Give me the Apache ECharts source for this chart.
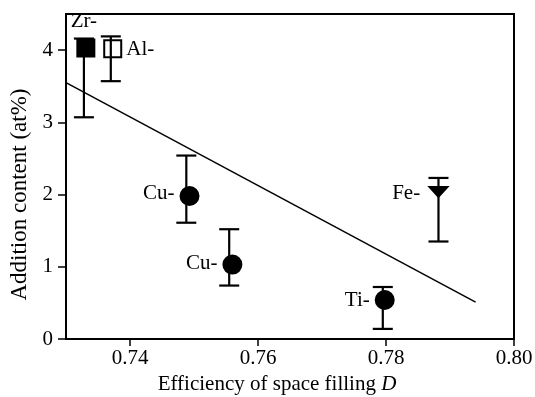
<!DOCTYPE html>
<html>
<head>
<meta charset="utf-8">
<script src="https://cdn.jsdelivr.net/npm/echarts@6/dist/echarts.min.js"></script>
<style>html,body{margin:0;padding:0;background:#fff;}#c{width:535px;height:397px;}</style>
</head>
<body>
<div id="c"></div>
<script>
// Data
const pointNames = ['Zr-', 'Al-', 'Cu-', 'Cu-', 'Ti-', 'Fe-'];
const pointX = [0.7331, 0.7373, 0.7493, 0.7560, 0.7798, 0.7882];
const pointY = [4.03, 4.02, 1.98, 1.03, 0.54, 2.04];
const errX = [0.7328, 0.7370, 0.7488, 0.7555, 0.7795, 0.7882];
const errLow = [3.07, 3.57, 1.61, 0.74, 0.14, 1.35];
const errHigh = [4.16, 4.19, 2.54, 1.52, 0.72, 2.23];
const fitX = [0.730, 0.794];
const fitY = [3.55, 0.51];
const xTicks = [0.74, 0.76, 0.78, 0.80];
const yTicks = [0, 1, 2, 3, 4];

const FONT = 'Liberation Serif';
const styles = [
  {symbol: 'rect', size: 17, rotate: 0, fill: '#000', pos: 'top', dist: 6, off: [-2, 0]},
  {symbol: 'rect', size: 17, rotate: 0, fill: 'rgba(0,0,0,0)', pos: 'right', dist: 4, off: [0, 1]},
  {symbol: 'circle', size: 18, rotate: 0, fill: '#000', pos: 'left', dist: 5, off: [0, -3]},
  {symbol: 'circle', size: 18, rotate: 0, fill: '#000', pos: 'left', dist: 5, off: [0, -1]},
  {symbol: 'circle', size: 18, rotate: 0, fill: '#000', pos: 'left', dist: 5, off: [0, 0]},
  {symbol: 'triangle', size: [18, 10], rotate: 180, fill: '#000', pos: 'left', dist: 8, off: [0, 2]}
];

const scatterData = pointX.map((x, i) => ({
  value: [x, pointY[i]],
  symbol: styles[i].symbol,
  symbolSize: styles[i].size,
  symbolRotate: styles[i].rotate,
  itemStyle: {color: styles[i].fill, borderColor: '#000', borderWidth: 2, opacity: 1},
  label: {show: true, formatter: pointNames[i], position: styles[i].pos, distance: styles[i].dist, offset: styles[i].off,
          fontFamily: FONT, fontSize: 21, color: '#000'}
}));

const errData = errX.map((x, i) => [x, errLow[i], errHigh[i]]);

const chart = echarts.init(document.getElementById('c'), null, {renderer: 'canvas'});
chart.setOption({
  animation: false,
  grid: {left: 66, right: 21, top: 14, bottom: 58, containLabel: false, outerBoundsMode: 'none',
         show: true, borderColor: '#000', borderWidth: 2},
  xAxis: {
    type: 'value', min: 0.73, max: 0.80,
    name: '{a|Efficiency of space filling }{b|D}', nameLocation: 'middle', nameGap: 29,
    nameTextStyle: {padding: [0, 26, 0, 0],
      rich: {a: {fontFamily: FONT, fontSize: 21, color: '#000'}, b: {fontFamily: FONT, fontSize: 21, fontStyle: 'italic', color: '#000'}}},
    axisLine: {lineStyle: {color: '#000', width: 2}},
    axisTick: {show: true, length: 7, inside: false, lineStyle: {color: '#000', width: 1.5}, customValues: xTicks},
    axisLabel: {fontFamily: FONT, fontSize: 21, color: '#000', margin: 9, customValues: xTicks, formatter: v => v.toFixed(2)},
    splitLine: {show: false}
  },
  yAxis: {
    type: 'value', min: 0, max: 4.5,
    name: 'Addition content (at%)', nameLocation: 'middle', nameGap: 34,
    nameTextStyle: {fontFamily: FONT, fontSize: 23, color: '#000', padding: [0, 36, 0, 0]},
    axisLine: {lineStyle: {color: '#000', width: 2}},
    axisTick: {show: true, length: 8, inside: false, lineStyle: {color: '#000', width: 1.5}, customValues: yTicks},
    axisLabel: {fontFamily: FONT, fontSize: 21, color: '#000', margin: 13, customValues: yTicks},
    splitLine: {show: false}
  },
  series: [
    {
      type: 'line', data: fitX.map((x, i) => [x, fitY[i]]), symbol: 'none',
      lineStyle: {color: '#000', width: 1.5}, z: 2, silent: true
    },
    {
      type: 'scatter', data: scatterData, z: 3, silent: true
    },
    {
      type: 'custom', z: 4, silent: true,
      data: errData,
      renderItem: function (params, api) {
        const x = api.value(0);
        const lo = api.coord([x, api.value(1)]);
        const hi = api.coord([x, api.value(2)]);
        const hw = 10;
        const st = {stroke: '#000', lineWidth: 2.2};
        return {
          type: 'group',
          children: [
            {type: 'line', shape: {x1: lo[0], y1: lo[1], x2: hi[0], y2: hi[1]}, style: st},
            {type: 'line', shape: {x1: lo[0] - hw, y1: lo[1], x2: lo[0] + hw, y2: lo[1]}, style: st},
            {type: 'line', shape: {x1: hi[0] - hw, y1: hi[1], x2: hi[0] + hw, y2: hi[1]}, style: st}
          ]
        };
      }
    }
  ]
});
</script>
</body>
</html>
